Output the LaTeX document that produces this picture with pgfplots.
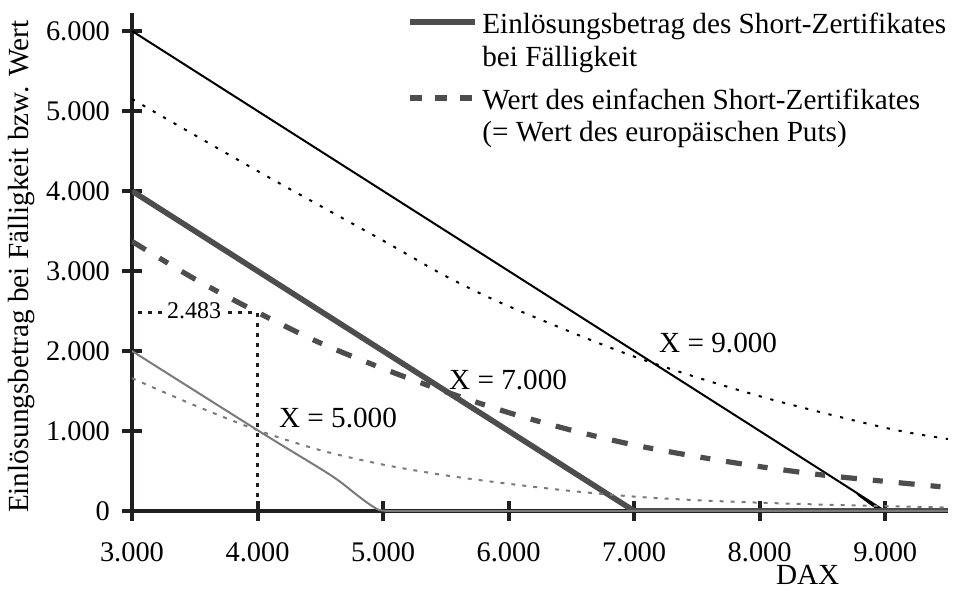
\documentclass[border=0pt]{standalone}
\usepackage{fontspec}
\setmainfont{Liberation Serif}
\usepackage{pgfplots}
\pgfplotsset{compat=1.18}
\definecolor{axblack}{HTML}{231F20}
\definecolor{dkgray}{HTML}{4D4D4D}
\definecolor{midgray}{HTML}{7A7A7A}

\begin{document}
\begin{tikzpicture}[font=\fontsize{14.6}{17.5}\selectfont]
\begin{axis}[
    scale only axis,
    width=408pt, height=249pt,
    xmin=3000, xmax=9500,
    ymin=0, ymax=6225,
    axis lines=left,
    axis line style={-, line width=2.4pt, color=axblack},
    tick align=center,
    major tick length=10pt,
    tick style={line width=2pt, color=axblack},
    xtick={3000,4000,...,9000},
    xticklabels={3.000,4.000,5.000,6.000,7.000,8.000,9.000},
    ytick={0,1000,...,6000},
    yticklabels={0,1.000,2.000,3.000,4.000,5.000,6.000},
    /pgf/number format/assume math mode=true,
    tick label style={font=\fontsize{14.2}{17}\selectfont},
    xticklabel style={yshift=-7.5pt},
    yticklabel style={xshift=-2.5pt},
    label style={font=\fontsize{14.6}{17.5}\selectfont},
    ylabel={Einlösungsbetrag bei Fälligkeit bzw. Wert},
    ylabel style={at={(axis description cs:-0.135,0.49)}, anchor=center},
    xlabel={DAX},
    xlabel style={at={(axis description cs:0.828,-0.128)}, anchor=center},
]
    % Einlösungsbetrag bei Fälligkeit
    \addplot[black, line width=1pt, smooth] coordinates {
        (3000,6000) (8560,440) (8800,185) (8900,70) (8960,15) (9020,0)};
    \addplot[black, line width=1pt] coordinates {(9020,0) (9500,0)};
    \addplot[dkgray, line width=2.8pt] coordinates {
        (3000,4000) (7000,0) (9500,0)};
    \addplot[midgray, line width=1pt, smooth] coordinates {
        (3000,2000) (4000,1010) (4500,530) (4650,375) (4800,190)
        (4900,75) (4970,12) (5050,0)};
    \addplot[midgray, line width=1pt] coordinates {(5050,0) (9500,0)};

    % Wert des Short-Zertifikates (Put)
    \addplot[black, line width=1pt, dash pattern=on 1.6pt off 4.4pt, smooth] coordinates {
        (3000,5150) (4000,4250) (5000,3380) (5500,2935) (6000,2560) (7000,1930)
        (8000,1435) (9000,1040) (9500,900)};
    \addplot[dkgray, line width=2.6pt, dash pattern=on 8pt off 8pt on 5pt off 8pt, smooth] coordinates {
        (3000,3370) (3500,2900) (4000,2483) (4500,2100) (5000,1780) (5500,1490)
        (6000,1230) (6500,1010) (7000,825) (7500,680) (8000,555) (8500,450)
        (9000,370) (9500,295)};
    \addplot[midgray, line width=1pt, dash pattern=on 2pt off 3.5pt, smooth] coordinates {
        (3000,1660) (3500,1320) (4000,1010) (4500,760) (5000,580) (5500,445)
        (6000,340) (6500,250) (7000,180) (7500,135) (8000,104) (8500,80)
        (9000,60) (9500,45)};

    % Hilfslinie 2.483
    \addplot[axblack, line width=1.4pt, dash pattern=on 2pt off 3pt] coordinates {
        (3050,2483) (4000,2483) (4000,0)};
    \node[fill=white, inner sep=2pt, font=\fontsize{12}{14}\selectfont] at (axis cs:3494,2500) {2.483};

    \node at (axis cs:7669,2100) {X = 9.000};
    \node at (axis cs:5996,1637) {X = 7.000};
    \node at (axis cs:4641,1162) {X = 5.000};

    % Legende
    \draw[dkgray, line width=2.8pt] (axis description cs:0.3407,0.9819) -- (axis description cs:0.4203,0.9819);
    \draw[dkgray, line width=2.6pt, dash pattern=on 6pt off 6.5pt] (axis description cs:0.3407,0.8293) -- (axis description cs:0.4203,0.8293);
    \node[anchor=base west, inner sep=0pt] at (axis description cs:0.4289,0.9598) {Einlösungsbetrag des Short-Zertifikates};
    \node[anchor=base west, inner sep=0pt] at (axis description cs:0.4289,0.8916) {bei Fälligkeit};
    \node[anchor=base west, inner sep=0pt] at (axis description cs:0.4289,0.8072) {Wert des einfachen Short-Zertifikates};
    \node[anchor=base west, inner sep=0pt] at (axis description cs:0.4289,0.7410) {(= Wert des europäischen Puts)};

    \coordinate (o) at (axis cs:3000,0);
\end{axis}
\pgfresetboundingbox
\path[use as bounding box] ([shift={(-66pt,-39.5pt)}]o) rectangle ([shift={(413.5pt,255.5pt)}]o);
\end{tikzpicture}
\end{document}
